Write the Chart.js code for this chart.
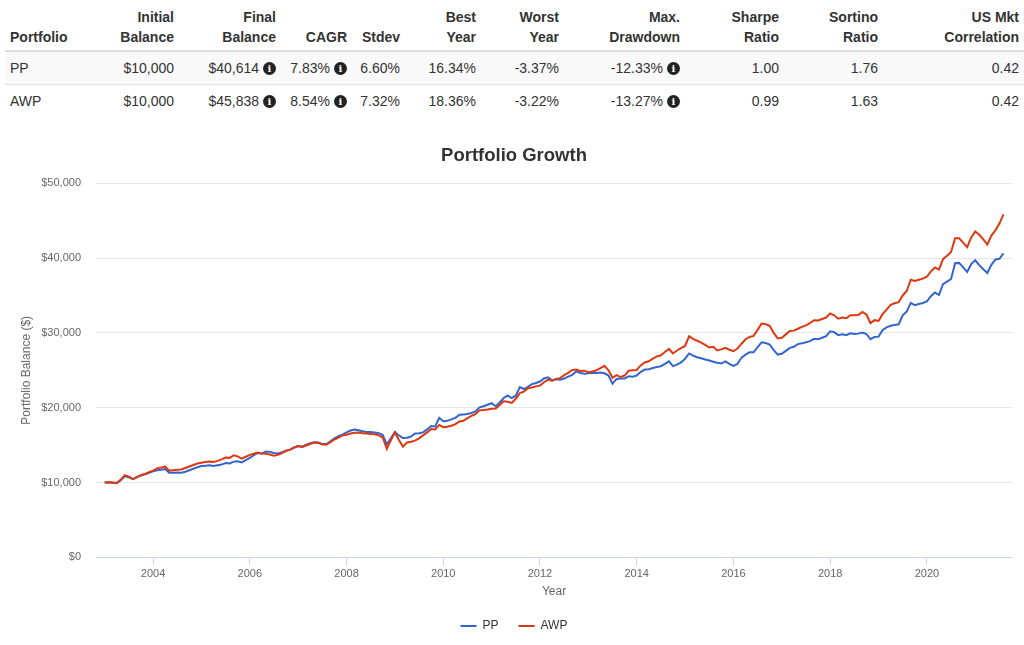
<!DOCTYPE html>
<html>
<head>
<meta charset="utf-8">
<script src="https://cdn.jsdelivr.net/npm/chart.js@4.4.1/dist/chart.umd.min.js"></script>
<style>
html, body { margin: 0; padding: 0; background: #fff; overflow: hidden; width: 1024px; height: 645px; }
body { font-family: "Liberation Sans", Arial, Helvetica, sans-serif; color: #333; font-size: 14px; position: relative; }
table { position: absolute; left: 5px; top: 0; border-collapse: collapse; table-layout: fixed; width: 1019px; }
th, td { padding: 6px 5px; line-height: 20px; text-align: right; white-space: nowrap; }
th { font-weight: bold; vertical-align: bottom; padding: 7px 5px 3px; border-bottom: 2px solid #ddd; }
td { border-top: 1px solid #ddd; }
th:first-child, td:first-child { text-align: left; }
tbody tr:first-child td { background: #f9f9f9; border-top: none; }
.info { display: inline-block; width: 13px; height: 13px; border-radius: 50%; background: #222; color: #fff;
        font: bold 10px/13px "DejaVu Serif", serif; text-align: center; margin-left: 4px; vertical-align: 1px; }
#wrap { position: absolute; left: 0; top: 130px; width: 1028px; height: 512px; }
</style>
</head>
<body>
<table>
  <colgroup>
    <col style="width:95px"><col style="width:79px"><col style="width:102px"><col style="width:71px">
    <col style="width:53px"><col style="width:76px"><col style="width:83px"><col style="width:121px">
    <col style="width:99px"><col style="width:99px"><col style="width:141px">
  </colgroup>
  <thead>
    <tr>
      <th>Portfolio</th><th>Initial<br>Balance</th><th>Final<br>Balance</th><th>CAGR</th><th>Stdev</th>
      <th>Best<br>Year</th><th>Worst<br>Year</th><th>Max.<br>Drawdown</th><th>Sharpe<br>Ratio</th>
      <th>Sortino<br>Ratio</th><th>US Mkt<br>Correlation</th>
    </tr>
  </thead>
  <tbody>
    <tr>
      <td>PP</td><td>$10,000</td><td>$40,614<span class="info">i</span></td><td>7.83%<span class="info">i</span></td>
      <td>6.60%</td><td>16.34%</td><td>-3.37%</td><td>-12.33%<span class="info">i</span></td><td>1.00</td><td>1.76</td><td>0.42</td>
    </tr>
    <tr>
      <td>AWP</td><td>$10,000</td><td>$45,838<span class="info">i</span></td><td>8.54%<span class="info">i</span></td>
      <td>7.32%</td><td>18.36%</td><td>-3.22%</td><td>-13.27%<span class="info">i</span></td><td>0.99</td><td>1.63</td><td>0.42</td>
    </tr>
  </tbody>
</table>

<div id="wrap"><canvas id="growth" width="1028" height="512"></canvas></div>

<script>
// monthly balances, Jan 2003 .. Aug 2021
const startYear = 2003;
const seriesNames = ['PP', 'AWP'];
const pp = [
  10000, 10050, 9980, 9900, 10300, 10850, 10700, 10450, 10700, 10950, 11100, 11300,
  11500, 11650, 11700, 11800, 11300, 11300, 11350, 11300, 11450, 11650, 11850, 12050,
  12200, 12250, 12300, 12200, 12300, 12400, 12600, 12550, 12800, 12850, 12700, 13000,
  13300, 13650, 13950, 13850, 14150, 14100, 13950, 13900, 14050, 14250, 14400, 14650,
  14900, 14800, 15050, 15250, 15400, 15350, 15150, 15150, 15500, 15900, 16200, 16400,
  16700, 16950, 17100, 17000, 16850, 16750, 16750, 16700, 16600, 16350, 15100, 15900,
  16750, 16300, 15950, 16000, 16150, 16550, 16600, 16700, 17100, 17550, 17500, 18650,
  18200, 18250, 18450, 18650, 19050, 19100, 19150, 19300, 19500, 20050, 20200, 20400,
  20600, 20200, 20700, 21300, 21650, 21300, 21600, 22750, 22500, 22800, 23150, 23300,
  23500, 23900, 24050, 23650, 23800, 23750, 23900, 24150, 24400, 24850, 24650, 24550,
  24600, 24650, 24650, 24700, 24600, 24300, 23200, 23850, 23900, 23900, 24200, 24150,
  24300, 24800, 25100, 25150, 25300, 25450, 25550, 25850, 26200, 25550, 25750, 26050,
  26550, 27250, 26950, 26750, 26600, 26450, 26300, 26150, 26000, 25900, 26200, 25850,
  25600, 25850, 26700, 27100, 27400, 27400, 28100, 28750, 28650, 28450, 27700, 27100,
  27200, 27600, 28000, 28150, 28500, 28600, 28750, 28900, 29200, 29150, 29350, 29550,
  30200, 30100, 29700, 29800, 29700, 29950, 29850, 29900, 30050, 29850, 29150, 29450,
  29500, 30350, 30750, 30950, 31050, 31150, 32350, 32850, 34000, 33700, 33850, 34000,
  34200, 34900, 35400, 35050, 36500, 36850, 37200, 39300, 39350, 38750, 38150, 39200,
  39700, 39050, 38500, 38000, 39100, 39800, 39900, 40614
];
const awp = [
  10000, 10050, 10000, 9950, 10400, 11000, 10800, 10450, 10750, 11000, 11150, 11400,
  11600, 11900, 12000, 12150, 11600, 11650, 11700, 11750, 11950, 12150, 12350, 12550,
  12650, 12750, 12800, 12750, 12900, 13100, 13350, 13300, 13650, 13500, 13200, 13450,
  13700, 13850, 14000, 13900, 13850, 13750, 13600, 13700, 13950, 14250, 14400, 14700,
  14850, 14750, 14950, 15150, 15350, 15300, 15100, 15050, 15400, 15750, 16000, 16300,
  16400, 16550, 16650, 16700, 16600, 16550, 16500, 16450, 16300, 16000, 14500, 15650,
  16700, 15700, 14800, 15350, 15450, 15600, 15900, 16300, 16700, 17150, 17100, 17700,
  17400, 17450, 17600, 17800, 18150, 18250, 18600, 18900, 19150, 19650, 19700, 19750,
  19850, 19900, 20350, 20850, 20800, 20650, 21200, 21950, 22150, 22600, 22700, 22850,
  22950, 23400, 23750, 23600, 23850, 23950, 24350, 24650, 25050, 25100, 24900, 24950,
  24750, 24850, 25000, 25300, 25600, 25000, 24000, 24350, 24100, 24300, 24950, 25000,
  25050, 25650, 26050, 26200, 26550, 26850, 27000, 27450, 27850, 27250, 27650, 27950,
  28250, 29550, 29200, 28950, 28700, 28400, 28050, 28150, 27650, 27800, 28000, 27750,
  27550, 27900, 28550, 29150, 29450, 29600, 30400, 31250, 31150, 30950, 30000, 29250,
  29350, 29800, 30250, 30300, 30550, 30800, 31000, 31300, 31700, 31650, 31850, 32050,
  32600, 32350, 31900, 32050, 31950, 32350, 32350, 32400, 32800, 32450, 31300, 31700,
  31600, 32500, 33100, 33750, 33950, 34100, 35000, 35600, 37100, 36950, 37100, 37250,
  37500, 38200, 38750, 38450, 39850, 40300, 40800, 42650, 42650, 42050, 41450, 42750,
  43550, 43100, 42500, 41800, 43000, 43700, 44600, 45838
];
const yearTicks = [2004, 2006, 2008, 2010, 2012, 2014, 2016, 2018, 2020];
const balanceTicks = [0, 10000, 20000, 30000, 40000, 50000];

const months = pp.map((_, i) => startYear + i / 12);
const toPoints = vals => vals.map((v, i) => ({ x: months[i], y: v }));

const FONT = '"Liberation Sans", Arial, Helvetica, sans-serif';
Chart.defaults.font.family = FONT;
Chart.defaults.color = '#666';

new Chart(document.getElementById('growth'), {
  type: 'line',
  data: {
    datasets: [
      { label: seriesNames[0], data: toPoints(pp), borderColor: '#3366cc', backgroundColor: '#3366cc',
        borderWidth: 2, pointRadius: 0, order: 1 },
      { label: seriesNames[1], data: toPoints(awp), borderColor: '#dc3912', backgroundColor: '#dc3912',
        borderWidth: 2, pointRadius: 0, order: 0 }
    ]
  },
  options: {
    responsive: false,
    animation: false,
    layout: { padding: { left: 16, right: 16, top: 0, bottom: 0 } },
    plugins: {
      title: {
        display: true, text: 'Portfolio Growth', color: '#333',
        font: { size: 18.5, weight: 'bold' }, padding: { top: 15, bottom: 16 }
      },
      legend: {
        position: 'bottom',
        labels: { usePointStyle: true, pointStyle: 'line', pointStyleWidth: 16, padding: 20,
                  color: '#333', font: { size: 12 },
                  sort: (a, b) => a.datasetIndex - b.datasetIndex }
      },
      tooltip: { enabled: false }
    },
    scales: {
      x: {
        type: 'linear',
        min: 2002.82, max: 2021.76,
        afterBuildTicks: axis => { axis.ticks = yearTicks.map(v => ({ value: v })); },
        ticks: { callback: v => String(v), font: { size: 11 }, color: '#666', padding: 2, maxRotation: 0 },
        grid: { drawOnChartArea: false, drawTicks: true, tickLength: 8, color: '#ccd6eb' },
        border: { color: '#ccd6eb' },
        title: { display: true, text: 'Year', font: { size: 12 }, color: '#666', padding: { top: 2, bottom: 1 } }
      },
      y: {
        min: 0, max: 50000,
        afterBuildTicks: axis => { axis.ticks = balanceTicks.map(v => ({ value: v })); },
        afterFit: axis => { axis.width = 80; },
        ticks: { callback: v => '$' + v.toLocaleString('en-US'), font: { size: 11 }, color: '#666', padding: 15 },
        grid: { color: '#e6e6e6', drawTicks: false },
        border: { display: false },
        title: { display: true, text: 'Portfolio Balance ($)', font: { size: 12 }, color: '#666', padding: { top: 3, bottom: 0 } }
      }
    }
  }
});
</script>
</body>
</html>
